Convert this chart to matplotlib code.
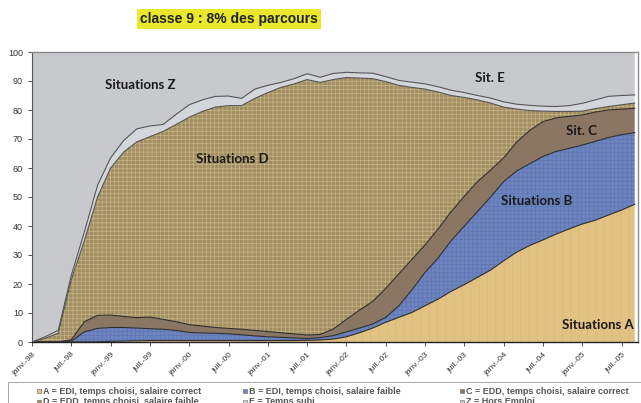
import matplotlib
matplotlib.use("Agg")
import matplotlib.pyplot as plt
import numpy as np
from matplotlib.patches import Rectangle

# months since janv.-98, sampled every 2 months
months = np.arange(0, 93, 2)

# share of trajectories (%) in each situation
sit_a = [0, 0, 0, 0, 0, 0.1, 0.2, 0.3, 0.4, 0.5, 0.5, 0.5, 0.5, 0.5, 0.5, 0.5,
         0.5, 0.5, 0.5, 0.5, 0.5, 0.6, 0.7, 1.0, 1.8, 3.2, 4.8, 6.8, 8.5, 10.2,
         12.5, 14.8, 17.5, 19.8, 22.3, 24.8, 28.0, 31.0, 33.3, 35.2, 37.2, 39.0,
         40.7, 42.0, 43.8, 45.5, 47.5]
sit_b = [0, 0, 0, 0.3, 3.5, 4.6, 4.8, 4.7, 4.4, 4.1, 3.9, 3.5, 2.8, 2.6, 2.5,
         2.3, 2.0, 1.6, 1.3, 1.1, 0.9, 0.6, 0.8, 1.2, 1.7, 1.6, 1.4, 1.7, 4.0,
         7.8, 11.5, 14.2, 17.5, 20.2, 22.7, 25.2, 27.3, 28.0, 28.2, 28.8, 28.5,
         27.8, 27.2, 27.2, 26.7, 26.0, 24.7]
sit_c = [0, 0, 0, 0.5, 3.5, 4.5, 4.3, 3.8, 3.6, 4.0, 3.4, 3.0, 2.7, 2.4, 2.0,
         1.9, 1.9, 1.9, 1.8, 1.6, 1.4, 1.2, 1.1, 2.3, 4.3, 6.2, 7.8, 10.0, 11.0,
         10.5, 9.5, 10.0, 10.0, 10.3, 10.3, 9.3, 8.2, 10.0, 11.5, 12.0, 11.6,
         11.0, 10.4, 10.1, 9.5, 8.8, 8.4]
sit_d = [0, 1.3, 3.0, 20.7, 28.0, 40.8, 50.7, 56.7, 60.6, 62.2, 64.8, 68.0,
         71.5, 74.0, 76.0, 76.8, 77.1, 80.0, 82.4, 84.6, 86.2, 88.1, 86.9, 86.0,
         83.4, 80.0, 76.8, 71.3, 65.0, 59.3, 53.7, 47.2, 40.0, 34.0, 28.2, 23.1,
         17.5, 11.3, 6.8, 3.6, 2.2, 1.7, 1.3, 1.2, 1.2, 1.5, 1.8]
sit_e = [0, 0.5, 1.0, 1.5, 3.0, 4.0, 3.5, 4.0, 4.5, 3.7, 2.4, 3.5, 4.3, 4.0,
         3.7, 3.3, 2.5, 3.2, 2.5, 1.7, 1.8, 2.0, 1.8, 2.1, 1.8, 1.8, 1.9, 1.7,
         1.7, 1.8, 1.8, 1.8, 1.8, 1.7, 1.5, 1.7, 1.8, 1.7, 1.8, 1.7, 1.7, 2.0,
         2.7, 3.0, 3.5, 3.2, 2.8]

tick_labels = ["janv.-98", "juil.-98", "janv.-99", "juil.-99", "janv.-00",
               "juil.-00", "janv.-01", "juil.-01", "janv.-02", "juil.-02",
               "janv.-03", "juil.-03", "janv.-04", "juil.-04", "janv.-05",
               "juil.-05"]

legend_labels = ["A = EDI, temps choisi, salaire correct",
                 "B = EDI, temps choisi, salaire faible",
                 "C = EDD, temps choisi, salaire correct",
                 "D = EDD, temps choisi, salaire faible",
                 "E = Temps subi",
                 "Z = Hors Emploi"]

colors = ["#e2c283", "#6c84c0", "#8b7663", "#a28e62", "#d3d6da", "#c7c9cd"]
hatches = ["||", "++++", None, "++++", None, None]
hatch_cols = ["#d4b470", "#5a70a8", None, "#d8c895", None, None]

plt.rcParams["hatch.linewidth"] = 0.5

layers = np.vstack([sit_a, sit_b, sit_c, sit_d, sit_e])
tops = np.cumsum(layers, axis=0)
bottoms = np.vstack([np.zeros(len(months)), tops[:-1]])

W, H = 641, 403


def px(x, y):
    # pixel position -> figure fraction
    return x / W, 1 - y / H


fig = plt.figure(figsize=(W / 100, H / 100), dpi=100)
ax = fig.add_axes([32 / W, 1 - 342 / H, 606 / W, 290 / H])

# Z = rest of the population, up to 100 %
ax.fill_between(months, tops[-1], 100, facecolor=colors[5], edgecolor="none")

for i in range(5):
    ax.fill_between(months, bottoms[i], tops[i], facecolor=colors[i],
                    edgecolor="none", zorder=2)
    if hatches[i]:
        ax.fill_between(months, bottoms[i], tops[i], facecolor="none",
                        edgecolor=hatch_cols[i], linewidth=0, hatch=hatches[i],
                        alpha=0.7, zorder=2.5)
for i in range(5):
    lc = "#555555" if i >= 3 else "#2e2e2e"
    ax.plot(months, tops[i], color=lc, lw=0.8, zorder=3)

ax.set_xlim(0, 92.5)
ax.set_ylim(0, 100)
ax.set_yticks(np.arange(0, 101, 10))
ax.set_xticks(np.arange(0, 91, 6))
ax.set_xticklabels(tick_labels, rotation=45, ha="right", rotation_mode="anchor",
                   fontsize=6, family="Liberation Sans", color="#333333")
ax.tick_params(axis="y", labelsize=6.5, colors="#333333", length=3, width=0.6)
ax.tick_params(axis="x", length=3, width=0.6, colors="#333333")
for lab in ax.get_yticklabels():
    lab.set_family("Liberation Sans")
for s in ["top", "right"]:
    ax.spines[s].set_color("#8a8a8a")
    ax.spines[s].set_linewidth(1.0)
ax.spines["left"].set_color("#555555")
ax.spines["bottom"].set_color("#222222")
ax.spines["bottom"].set_linewidth(1.0)

lab_kw = dict(fontsize=9.5, fontweight="bold", family="Lato", color="#1a1a1a",
              ha="center", va="center", zorder=5)
ax.text(16.6, 88.7, "Situations Z", **lab_kw)
ax.text(30.5, 63.0, "Situations D", **lab_kw)
ax.text(69.9, 91.2, "Sit. E", **lab_kw)
ax.text(83.8, 72.8, "Sit. C", **lab_kw)
ax.text(77.1, 48.6, "Situations B", **lab_kw)
ax.text(86.4, 5.7, "Situations A", **lab_kw)

fig.text(*px(229, 19), "classe 9 : 8% des parcours", ha="center",
         va="center", fontsize=10, fontweight="bold", family="Liberation Sans",
         color="#222222",
         bbox=dict(facecolor="#e9e82c", edgecolor="none", pad=2.5))

# legend box below the axis, two rows of three entries
x0, y0 = px(8, 382)
fig.patches.append(Rectangle((x0, y0 - 30 / H), 640 / W, 30 / H,
                             transform=fig.transFigure, facecolor="white",
                             edgecolor="#9a9a9a", linewidth=0.6))
col_x = [37, 243, 460]
row_y = [391, 402]
for k, lab in enumerate(legend_labels):
    cx, cy = col_x[k % 3], row_y[k // 3]
    mx, my = px(cx, cy + 2)
    fig.patches.append(Rectangle((mx, my), 4 / W, 4 / H,
                                 transform=fig.transFigure,
                                 facecolor=colors[k], edgecolor="#666666",
                                 linewidth=0.4))
    fig.text(*px(cx + 6, cy), lab, ha="left", va="center", fontsize=6.5,
             fontweight="bold", family="Liberation Sans", color="#555555")

fig.savefig("out.png", dpi=100)
